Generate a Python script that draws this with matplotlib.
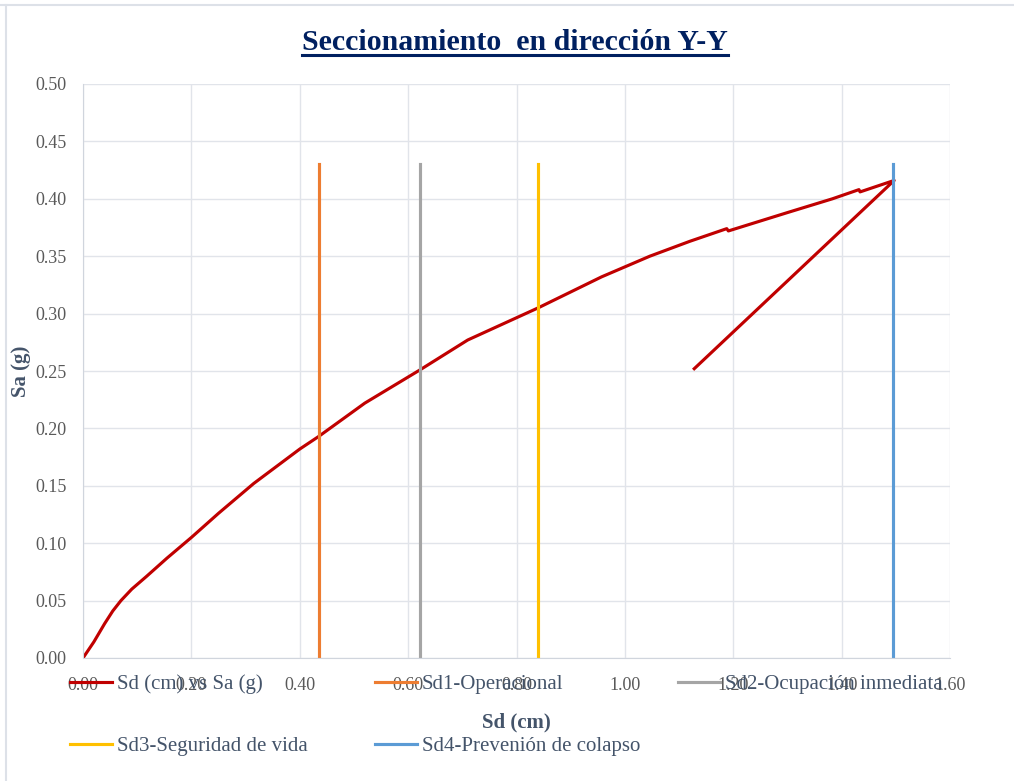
import matplotlib
matplotlib.use('Agg')
import matplotlib.pyplot as plt
from matplotlib.lines import Line2D

plt.rcParams['font.family'] = ['Liberation Serif', 'DejaVu Serif']

#--capacity curve Sd (cm) vs Sa (g)
sd = [0, 0.020, 0.040, 0.055, 0.070, 0.090, 0.117, 0.155, 0.200, 0.250, 0.315,
      0.400, 0.435, 0.520, 0.622, 0.710, 0.840, 0.957, 1.046, 1.120, 1.188,
      1.191, 1.300, 1.383, 1.432, 1.434, 1.497, 1.128]
sa = [0, 0.014, 0.030, 0.041, 0.050, 0.060, 0.071, 0.087, 0.105, 0.126, 0.152,
      0.182, 0.193, 0.222, 0.251, 0.277, 0.305, 0.332, 0.350, 0.363, 0.374,
      0.372, 0.388, 0.400, 0.408, 0.406, 0.416, 0.252]

#--performance points (vertical lines)
sd_levels = [0.435, 0.622, 0.840, 1.494]
level_top = 0.43
labels = ['Sd (cm) vs Sa (g)', 'Sd1-Operacional', 'Sd2-Ocupación inmediata',
          'Sd3-Seguridad de vida', 'Sd4-Prevenión de colapso']
colors = ['#C00000', '#ED7D31', '#A5A5A5', '#FFC000', '#5B9BD5']

xticks = [0, 0.2, 0.4, 0.6, 0.8, 1.0, 1.2, 1.4, 1.6]
yticks = [0, 0.05, 0.10, 0.15, 0.20, 0.25, 0.30, 0.35, 0.40, 0.45, 0.50]

fig = plt.figure(figsize=(10.14, 7.81), dpi=100)
ax = fig.add_axes([83/1014, 1-658/781, 867/1014, 574/781])

lines = []
l, = ax.plot(sd, sa, color=colors[0], lw=2.25, solid_joinstyle='round')
lines.append(l)
for x, c in zip(sd_levels, colors[1:]):
    l, = ax.plot([x, x], [0, level_top], color=c, lw=2.25)
    lines.append(l)

ax.set_xlim(0, 1.6)
ax.set_ylim(0, 0.5)
ax.set_xticks(xticks)
ax.set_yticks(yticks)
ax.set_xticklabels(['%.2f' % v for v in xticks])
ax.set_yticklabels(['%.2f' % v for v in yticks])
ax.tick_params(length=0, labelsize=13, labelcolor='#595959')
ax.tick_params(axis='x', pad=14)
ax.tick_params(axis='y', pad=12)
ax.grid(True, color='#E1E4EA', lw=1)
ax.set_axisbelow(True)
for s in ['top', 'right']:
    ax.spines[s].set_visible(False)
ax.spines['bottom'].set_color('#D0D5DD')
ax.spines['left'].set_color('#D0D5DD')

ax.set_xlabel('Sd (cm)', fontsize=15, fontweight='bold', color='#44546A')
ax.set_ylabel('Sa (g)', fontsize=15, fontweight='bold', color='#44546A')
ax.xaxis.set_label_coords(0.5, (658-712)/574)
ax.yaxis.set_label_coords((31-83)/867, 0.5)

#--legend entries placed one by one, like the excel layout
spots = [(70, 684), (375, 684), (678, 684), (70, 746), (375, 746)]
for h, lab, (px, py) in zip(lines, labels, spots):
    fig.legend([h], [lab], loc='center left', bbox_to_anchor=(px/1014, 1-py/781),
               frameon=False, fontsize=15, borderpad=0, borderaxespad=0,
               handlelength=2.0, handletextpad=0.25, labelcolor='#44546A')

#--title with underline
t = fig.text(515/1014, 1-50/781, 'Seccionamiento  en dirección Y-Y', ha='center',
             va='baseline', fontsize=21.5, fontweight='bold', color='#002060')
fig.canvas.draw()
bb = t.get_window_extent().transformed(fig.transFigure.inverted())
uy = 1-54.5/781
fig.add_artist(Line2D([bb.x0, bb.x1], [uy, uy], color='#002060', lw=2.2,
                      transform=fig.transFigure))

#--chart area border (only top and left show)
fig.add_artist(Line2D([0, 1], [1-4.5/781, 1-4.5/781], color='#DDE1E8', lw=1.5,
                      transform=fig.transFigure))
fig.add_artist(Line2D([6/1014, 6/1014], [0, 1-4.5/781], color='#DDE1E8', lw=1.5,
                      transform=fig.transFigure))

fig.savefig('out.png', dpi=100)
